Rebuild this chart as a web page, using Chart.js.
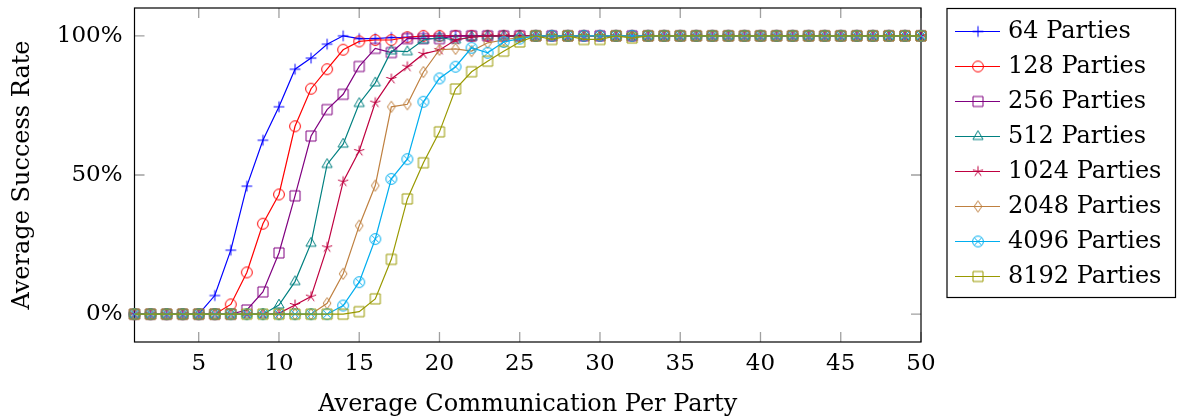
<!DOCTYPE html>
<html>
<head>
<meta charset="utf-8">
<script src="https://cdn.jsdelivr.net/npm/chart.js@4/dist/chart.umd.min.js"></script>
<style>
  html, body { margin: 0; background: #fff; }
  #wrap { width: 1177px; height: 419px; }
</style>
</head>
<body>
<div id="wrap"><canvas id="chart"></canvas></div>
<script>
// ── DATA ───────────────────────────────────────────────────────
const communication = [
  1, 2, 3, 4, 5, 6, 7, 8, 9, 10,
  11, 12, 13, 14, 15, 16, 17, 18, 19, 20,
  21, 22, 23, 24, 25, 26, 27, 28, 29, 30,
  31, 32, 33, 34, 35, 36, 37, 38, 39, 40,
  41, 42, 43, 44, 45, 46, 47, 48, 49, 50,
];
const partyLabels = ['64 Parties', '128 Parties', '256 Parties', '512 Parties',
                     '1024 Parties', '2048 Parties', '4096 Parties', '8192 Parties'];
const seriesColors = ['#0000ff', '#ff0000', '#800080', '#008080',
                      '#bf0040', '#bf8040', '#00aeef', '#999900'];
const seriesMarks = ['plus', 'circle', 'square', 'triangle',
                     'star', 'diamond', 'otimes', 'square'];

const p64 = [
  0, 0, 0, 0, 0, 6.7, 23, 46, 62.5, 74.5,
  88, 92, 97, 100, 99, 99, 99.4, 99.5, 99.8, 100,
  100, 100, 100, 100, 100, 100, 100, 100, 100, 100,
  100, 100, 100, 100, 100, 100, 100, 100, 100, 100,
  100, 100, 100, 100, 100, 100, 100, 100, 100, 100,
];
const p128 = [
  0, 0, 0, 0, 0, 0, 3.5, 15, 32.5, 43,
  67.5, 81, 88, 95, 98, 98.5, 98.5, 99.5, 100, 100,
  100, 100, 100, 100, 100, 100, 100, 100, 100, 100,
  100, 100, 100, 100, 100, 100, 100, 100, 100, 100,
  100, 100, 100, 100, 100, 100, 100, 100, 100, 100,
];
const p256 = [
  0, 0, 0, 0, 0, 0, 0, 1.5, 8, 22,
  42.5, 64, 73.5, 79, 89, 95.5, 94, 99, 99, 99,
  100, 100, 100, 100, 100, 100, 100, 100, 100, 100,
  100, 100, 100, 100, 100, 100, 100, 100, 100, 100,
  100, 100, 100, 100, 100, 100, 100, 100, 100, 100,
];
const p512 = [
  0, 0, 0, 0, 0, 0, 0, 0, 0, 3.3,
  11.7, 25.5, 53.8, 61.1, 75.7, 83.1, 94.6, 94.3, 98.5, 99.4,
  98.5, 99.6, 100, 100, 100, 100, 100, 100, 100, 100,
  100, 100, 100, 100, 100, 100, 100, 100, 100, 100,
  100, 100, 100, 100, 100, 100, 100, 100, 100, 100,
];
const p1024 = [
  0, 0, 0, 0, 0, 0, 0, 0, 0, 0.3,
  3.3, 6.3, 24, 47.6, 58.6, 76, 84.5, 88.9, 93.5, 94.9,
  98.5, 99.5, 100, 100, 100, 100, 100, 100, 100, 100,
  100, 100, 100, 100, 100, 100, 100, 100, 100, 100,
  100, 100, 100, 100, 100, 100, 100, 100, 100, 100,
];
const p2048 = [
  0, 0, 0, 0, 0, 0, 0, 0, 0, 0,
  0, 0, 3.9, 14.5, 31.8, 46.2, 74.5, 75.4, 87, 95,
  95.3, 94.5, 97.5, 98.5, 99.5, 100, 100, 100, 100, 100,
  100, 100, 100, 100, 100, 100, 100, 100, 100, 100,
  100, 100, 100, 100, 100, 100, 100, 100, 100, 100,
];
const p4096 = [
  0, 0, 0, 0, 0, 0, 0, 0, 0, 0,
  0, 0, 0, 3.1, 11.5, 27, 48.6, 55.7, 76.3, 84.7,
  88.9, 95.7, 93.9, 97.8, 99, 100, 100, 100, 100, 100,
  100, 100, 100, 100, 100, 100, 100, 100, 100, 100,
  100, 100, 100, 100, 100, 100, 100, 100, 100, 100,
];
const p8192 = [
  0, 0, 0, 0, 0, 0, 0, 0, 0, 0,
  0, 0, 0, 0, 0.9, 5.5, 19.7, 41.4, 54.4, 65.5,
  80.9, 87.1, 90.9, 94.5, 97.8, 100, 98.7, 100, 98.7, 98.7,
  100, 99.2, 100, 100, 100, 100, 100, 100, 100, 100,
  100, 100, 100, 100, 100, 100, 100, 100, 100, 100,
];
const seriesValues = [p64, p128, p256, p512, p1024, p2048, p4096, p8192];

const xTicks = [5, 10, 15, 20, 25, 30, 35, 40, 45, 50];
const yTicks = [0, 50, 100];

const SERIF = '"DejaVu Serif", "Liberation Serif", serif';

// ── MARKERS (pgfplots-like, drawn once into small canvases) ────
function drawMark(g, style, cx, cy) {
  const r = 5.4;
  g.beginPath();
  if (style === 'plus') {
    g.moveTo(cx - r, cy); g.lineTo(cx + r, cy);
    g.moveTo(cx, cy - r); g.lineTo(cx, cy + r);
  } else if (style === 'circle') {
    g.arc(cx, cy, r, 0, Math.PI * 2);
  } else if (style === 'square') {
    g.rect(cx - 5, cy - 5, 10, 10);
  } else if (style === 'triangle') {
    g.moveTo(cx, cy - 5.8);
    g.lineTo(cx + 5.1, cy + 3);
    g.lineTo(cx - 5.1, cy + 3);
    g.closePath();
  } else if (style === 'star') {
    for (let k = 0; k < 5; k++) {
      const a = -Math.PI / 2 + k * 2 * Math.PI / 5;
      g.moveTo(cx, cy);
      g.lineTo(cx + r * Math.cos(a), cy + r * Math.sin(a));
    }
  } else if (style === 'diamond') {
    g.moveTo(cx, cy - 5.6); g.lineTo(cx + 3.9, cy);
    g.lineTo(cx, cy + 5.6); g.lineTo(cx - 3.9, cy);
    g.closePath();
  } else if (style === 'otimes') {
    g.arc(cx, cy, r, 0, Math.PI * 2);
    const d = r * Math.SQRT1_2;
    g.moveTo(cx - d, cy - d); g.lineTo(cx + d, cy + d);
    g.moveTo(cx - d, cy + d); g.lineTo(cx + d, cy - d);
  }
  g.stroke();
}

function makeMark(style, color) {
  const c = document.createElement('canvas');
  c.width = 16; c.height = 16;
  const g = c.getContext('2d');
  g.strokeStyle = color;
  g.lineWidth = 1;
  drawMark(g, style, 8, 8);
  return c;
}

// ── PLUGINS: frame + inward ticks, boxed legend ────────────────
const framePlugin = {
  id: 'frame',
  beforeDatasetsDraw(chart) {
    const { ctx, chartArea: a, scales: { x, y } } = chart;
    ctx.save();
    ctx.strokeStyle = '#a0a0a0';
    ctx.lineWidth = 1.3;
    ctx.beginPath();
    xTicks.forEach(v => {
      const px = x.getPixelForValue(v);
      ctx.moveTo(px, a.top);    ctx.lineTo(px, a.top + 10);
      ctx.moveTo(px, a.bottom); ctx.lineTo(px, a.bottom - 10);
    });
    yTicks.forEach(v => {
      const py = y.getPixelForValue(v);
      ctx.moveTo(a.left, py);  ctx.lineTo(a.left + 10, py);
      ctx.moveTo(a.right, py); ctx.lineTo(a.right - 10, py);
    });
    ctx.stroke();
    ctx.strokeStyle = '#000';
    ctx.lineWidth = 1.2;
    ctx.strokeRect(a.left, a.top, a.width, a.height);
    ctx.restore();
  },
};

const legendPlugin = {
  id: 'boxLegend',
  afterDraw(chart) {
    const ctx = chart.ctx;
    const left = chart.chartArea.right + 26;
    ctx.save();
    ctx.strokeStyle = '#000';
    ctx.lineWidth = 1.2;
    ctx.strokeRect(left, 8.5, 1175.5 - left, 289);
    ctx.font = '24px ' + SERIF;
    ctx.textBaseline = 'middle';
    chart.data.datasets.forEach((ds, i) => {
      const cy = 31.5 + i * 35;
      ctx.strokeStyle = ds.borderColor;
      ctx.lineWidth = 1.2;
      ctx.beginPath();
      ctx.moveTo(left + 8, cy);
      ctx.lineTo(left + 53, cy);
      ctx.stroke();
      ctx.drawImage(ds.pointStyle, left + 31 - 8, cy - 8);
      ctx.fillStyle = '#000';
      ctx.fillText(ds.label, left + 61, cy);
    });
    ctx.restore();
  },
};

// no automatic label overflow padding: the frame sits at fixed edges
const noPad = s => { s.paddingTop = 0; s.paddingBottom = 0; s.paddingLeft = 0; s.paddingRight = 0; };

// ── CHART ──────────────────────────────────────────────────────
const datasets = seriesValues.map((vals, i) => ({
  label: partyLabels[i],
  data: communication.map((x, j) => ({ x, y: vals[j] })),
  borderColor: seriesColors[i],
  backgroundColor: seriesColors[i],
  borderWidth: 1.2,
  pointStyle: makeMark(seriesMarks[i], seriesColors[i]),
  pointRadius: 5,
  tension: 0,
  clip: false,
  order: seriesValues.length - 1 - i,
}));

new Chart(document.getElementById('chart').getContext('2d'), {
  type: 'line',
  data: { datasets },
  options: {
    responsive: true,
    maintainAspectRatio: false,
    animation: false,
    layout: { padding: { top: 8, right: 256, bottom: 0, left: 0 } },
    plugins: {
      legend: { display: false },
      tooltip: { enabled: false },
    },
    scales: {
      x: {
        type: 'linear', min: 1, max: 50,
        grid: { display: false, drawTicks: false },
        border: { display: false },
        afterBuildTicks: s => { s.ticks = xTicks.map(v => ({ value: v })); },
        afterFit: s => { s.height = 77; noPad(s); },
        ticks: {
          color: '#000', padding: 8, maxRotation: 0, autoSkip: false,
          font: { family: SERIF, size: 23 },
        },
        title: {
          display: true, text: 'Average Communication Per Party', color: '#000',
          font: { family: SERIF, size: 24 }, padding: { top: 0, bottom: 0 },
        },
      },
      y: {
        min: -10, max: 110,
        grid: { display: false, drawTicks: false },
        border: { display: false },
        afterBuildTicks: s => { s.ticks = yTicks.map(v => ({ value: v })); },
        afterFit: s => { s.width = 134.5; noPad(s); },
        ticks: {
          color: '#000', padding: 12,
          font: { family: SERIF, size: 23 },
          callback: v => v + '%',
        },
        title: {
          display: true, text: 'Average Success Rate', color: '#000',
          font: { family: SERIF, size: 24 }, padding: { top: 8, bottom: 0 },
        },
      },
    },
  },
  plugins: [framePlugin, legendPlugin],
});
</script>
</body>
</html>
